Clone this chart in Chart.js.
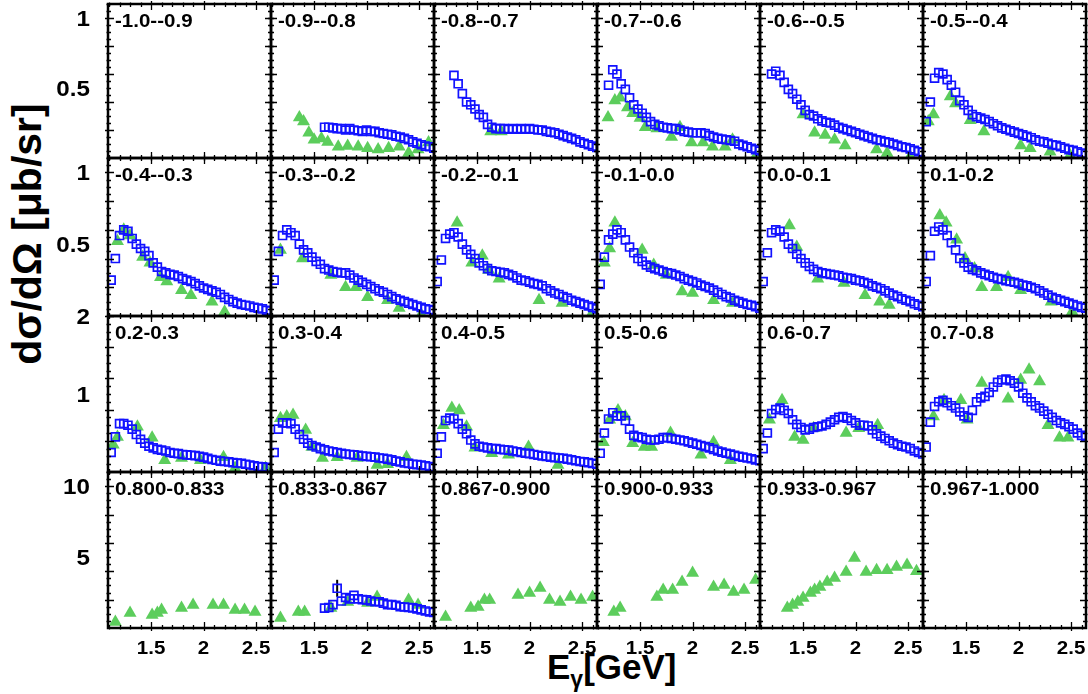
<!DOCTYPE html>
<html>
<head>
<meta charset="utf-8">
<script src="https://cdn.jsdelivr.net/npm/chart.js@4.4.1/dist/chart.umd.min.js"></script>
<style>
  html, body { margin: 0; padding: 0; background: #fff; }
  #wrap { position: relative; width: 1088px; height: 694px; overflow: hidden; background: #fff;
          font-family: "Liberation Sans", Arial, Helvetica, sans-serif; font-weight: bold; color: #000; }
  #wrap canvas { position: absolute; }
  #ytitle { position: absolute; left: -123px; top: 214px; width: 300px; height: 40px; line-height: 40px;
            font-size: 41px; text-align: center; white-space: nowrap; transform: rotate(-90deg); }
  #xtitle { position: absolute; left: 547px; top: 649px; font-size: 35px; line-height: 35px; white-space: nowrap; }
  #xtitle span { font-size: 23px; position: relative; top: 8px; }
</style>
</head>
<body>
<div id="wrap">
  <div id="ytitle">dσ/dΩ [μb/sr]</div>
  <div id="xtitle">E<span>γ</span>[GeV]</div>
</div>
<script>
// cos(theta) bins, one per panel, left to right, top to bottom
const binLabels = [
  '-1.0--0.9', '-0.9--0.8', '-0.8--0.7', '-0.7--0.6', '-0.6--0.5', '-0.5--0.4',
  '-0.4--0.3', '-0.3--0.2', '-0.2--0.1', '-0.1-0.0', '0.0-0.1', '0.1-0.2',
  '0.2-0.3', '0.3-0.4', '0.4-0.5', '0.5-0.6', '0.6-0.7', '0.7-0.8',
  '0.800-0.833', '0.833-0.867', '0.867-0.900', '0.900-0.933', '0.933-0.967', '0.967-1.000'
];

// photon energies of the blue (open square) data set
const eGrid = [1.12, 1.16, 1.20, 1.24, 1.28, 1.32, 1.36, 1.40, 1.44, 1.48, 1.52, 1.56, 1.60,
  1.64, 1.68, 1.72, 1.76, 1.80, 1.84, 1.88, 1.92, 1.96, 2.00, 2.04, 2.08, 2.12, 2.16,
  2.20, 2.24, 2.28, 2.32, 2.36, 2.40, 2.44, 2.48, 2.52, 2.56, 2.60, 2.64];

// first eGrid index that each panel's blue series uses
const blueFrom = [null, 12, 4, 2, 2, 0, 0, 0, 0, 0, 0, 0, 0, 0, 0, 0, 0, 0, null, 12, null, null, null, null];

const blueY = [
  null,
  [.22,.22,.215,.21,.21,.20,.21,.20,.195,.19,.20,.19,.19,.18,.175,.17,.165,.155,.15,.14,.13,.115,.105,.095,.085,.08,.07],
  [.59,.53,.46,.40,.38,.35,.31,.29,.24,.22,.21,.21,.21,.205,.21,.205,.21,.205,.21,.205,.20,.20,.19,.185,.18,.17,.16,.15,.14,.13,.115,.105,.095,.085,.075],
  [.52,.63,.60,.53,.49,.43,.38,.35,.32,.29,.26,.24,.23,.22,.215,.21,.21,.20,.19,.185,.18,.18,.18,.175,.16,.15,.14,.135,.13,.125,.12,.10,.09,.08,.07,.06,.05],
  [.60,.62,.59,.54,.49,.46,.42,.38,.34,.31,.30,.28,.265,.255,.25,.235,.22,.21,.20,.19,.18,.17,.16,.15,.14,.13,.125,.115,.11,.10,.09,.08,.075,.065,.055,.045,.04],
  [.26,.40,.57,.61,.60,.56,.52,.47,.41,.38,.34,.31,.295,.285,.275,.26,.245,.23,.215,.205,.195,.185,.175,.165,.155,.145,.13,.12,.115,.105,.095,.09,.08,.07,.06,.055,.045,.035,.03],
  [.25,.40,.56,.60,.59,.54,.50,.47,.45,.42,.37,.34,.31,.30,.29,.285,.275,.26,.25,.24,.225,.21,.195,.185,.175,.165,.15,.13,.115,.10,.09,.08,.075,.07,.06,.055,.05,.04,.035],
  [.25,.45,.56,.60,.58,.56,.50,.46,.44,.41,.38,.36,.33,.32,.31,.305,.30,.30,.285,.265,.25,.235,.22,.205,.19,.175,.165,.15,.135,.12,.11,.10,.09,.08,.07,.06,.05,.045,.04],
  [.24,.39,.54,.57,.58,.55,.50,.46,.43,.40,.37,.35,.33,.315,.31,.305,.30,.29,.28,.265,.25,.245,.235,.225,.22,.21,.19,.175,.16,.15,.135,.125,.11,.10,.09,.08,.07,.06,.05],
  [.22,.41,.53,.57,.60,.58,.53,.48,.44,.40,.38,.355,.34,.33,.32,.31,.30,.295,.285,.275,.26,.25,.24,.23,.215,.205,.195,.18,.165,.15,.135,.125,.11,.10,.09,.08,.075,.065,.055],
  [.24,.44,.58,.60,.59,.55,.50,.47,.43,.40,.37,.345,.325,.31,.30,.295,.29,.285,.28,.27,.265,.26,.25,.245,.235,.225,.21,.20,.19,.175,.16,.145,.135,.12,.11,.10,.085,.075,.065],
  [.24,.42,.59,.62,.60,.56,.51,.46,.40,.37,.34,.325,.315,.30,.29,.28,.27,.26,.255,.245,.24,.235,.225,.215,.21,.20,.19,.175,.16,.145,.13,.12,.11,.10,.09,.08,.07,.06,.055],
  [.25,.45,.62,.62,.60,.55,.48,.42,.37,.33,.31,.29,.28,.27,.25,.24,.235,.225,.22,.215,.21,.20,.19,.175,.16,.15,.14,.135,.13,.12,.115,.11,.10,.09,.08,.07,.065,.06,.05],
  [.25,.55,.63,.63,.62,.55,.48,.42,.37,.34,.32,.30,.285,.27,.26,.25,.24,.23,.225,.22,.215,.205,.20,.195,.19,.18,.175,.165,.155,.14,.13,.115,.11,.10,.095,.09,.08,.07,.065],
  [.24,.45,.66,.69,.68,.62,.55,.49,.41,.36,.33,.32,.31,.30,.30,.29,.285,.28,.27,.26,.25,.24,.235,.225,.215,.205,.20,.19,.185,.18,.175,.165,.155,.145,.135,.13,.12,.11,.10],
  [.24,.50,.68,.76,.72,.72,.66,.55,.47,.45,.44,.42,.41,.41,.42,.44,.44,.43,.42,.41,.40,.385,.37,.355,.34,.325,.31,.29,.27,.255,.24,.23,.215,.20,.19,.18,.17,.155,.145],
  [.30,.50,.75,.80,.82,.79,.75,.67,.61,.57,.54,.55,.57,.58,.59,.61,.64,.67,.70,.71,.69,.66,.63,.60,.60,.59,.54,.49,.46,.43,.40,.37,.35,.33,.32,.30,.27,.25,.23],
  [.32,.64,.84,.90,.92,.89,.85,.82,.77,.72,.70,.79,.90,.95,.97,1.02,1.09,1.15,1.18,1.19,1.17,1.14,1.09,1.01,.95,.90,.85,.82,.78,.74,.70,.66,.63,.61,.58,.55,.50,.47,.45],
  null,
  [1.40,1.45,1.65,2.80,1.90,2.15,2.05,2.30,2.05,2.00,1.98,1.90,1.85,1.85,1.75,1.65,1.65,1.60,1.50,1.48,1.45,1.42,1.35,1.28,1.20,1.13,1.10],
  null, null, null, null
];

// the one visible error bar (panel 0.833-0.867)
const errPanel = [19];
const errE = [1.72];
const errLo = [2.2];
const errHi = [3.4];

// green (filled triangle) data set: energies and values per panel
const greenE = [
  [],
  [1.36,1.40,1.45,1.50,1.57,1.63,1.73,1.82,1.92,2.01,2.11,2.21,2.31,2.40,2.49,2.59],
  [1.63,1.73],
  [1.195,1.26,1.31,1.38,1.43,1.50,1.55,1.66,1.80,1.88,1.99,2.10,2.19,2.31,2.38,2.60],
  [1.50,1.61,1.71,1.80,1.90,2.20,2.30,2.52],
  [1.14,1.19,1.35,1.40,1.54,1.67,2.02,2.11,2.30,2.49],
  [1.18,1.24,1.30,1.42,1.49,1.59,1.65,1.79,1.88,2.08,2.20],
  [1.18,1.39,1.66,1.80,1.90,2.01,2.20,2.31,2.52],
  [1.31,1.45,1.55,1.61,1.71,2.09,2.31,2.58],
  [1.16,1.21,1.26,1.52,1.63,1.75,1.90,2.00,2.20,2.38],
  [1.37,1.44,1.64,1.89,2.09,2.23,2.32],
  [1.25,1.31,1.41,1.49,1.58,1.65,1.79,1.90,2.02,2.31,2.51],
  [1.14,1.18,1.37,1.51,1.63,1.79,1.97,2.19,2.30,2.59],
  [1.18,1.24,1.30,1.42,1.48,1.58,1.72,1.91,2.10,2.20,2.38],
  [1.18,1.26,1.33,1.40,1.48,1.64,1.80,1.99,2.27],
  [1.15,1.21,1.29,1.36,1.43,1.54,1.61,1.79,2.08,2.20,2.36],
  [1.18,1.30,1.42,1.50,1.60,1.91,2.03,2.21],
  [1.19,1.29,1.45,1.51,1.65,1.90,2.02,2.10,2.20,2.28,2.39,2.47],
  [1.16,1.30,1.51,1.56,1.60,1.79,1.90,2.09,2.19,2.30,2.39,2.49],
  [1.18,1.35,1.41,1.66,1.82,2.01,2.10,2.40,2.49],
  [1.20,1.44,1.51,1.57,1.62,1.89,2.00,2.10,2.19,2.29,2.39,2.49,2.60],
  [1.25,1.31,1.66,1.72,1.81,1.90,2.00,2.20,2.30,2.39,2.49,2.60],
  [1.35,1.40,1.45,1.50,1.57,1.61,1.66,1.73,1.80,1.91,1.99,2.10,2.20,2.30,2.39,2.49,2.58],
  []
];
const greenY = [
  [],
  [.29,.26,.18,.13,.14,.115,.08,.085,.08,.07,.06,.07,.08,.035,.06,.11],
  [.19,.19],
  [.29,.41,.43,.36,.32,.285,.22,.21,.15,.22,.11,.11,.08,.08,.13,.01],
  [.31,.18,.165,.13,.09,.06,.035,.01],
  [.26,.31,.44,.39,.27,.19,.09,.07,.045,.02],
  [.52,.60,.56,.41,.37,.27,.24,.18,.145,.10,.03],
  [.46,.40,.285,.20,.20,.13,.11,.055,.01],
  [.65,.37,.42,.32,.26,.11,.09,.0],
  [.37,.47,.65,.46,.355,.285,.17,.16,.11,.09],
  [.63,.48,.26,.23,.145,.10,.077],
  [.70,.65,.53,.40,.33,.20,.20,.27,.18,.10,.03],
  [.35,.45,.58,.44,.15,.18,.15,.19,.05,.05],
  [.69,.71,.73,.54,.32,.18,.19,.18,.09,.10,.19],
  [.60,.82,.79,.58,.31,.24,.22,.32,.09],
  [.38,.67,.79,.71,.37,.32,.32,.50,.22,.38,.15],
  [.67,.92,.45,.41,.56,.50,.56,.60],
  [.71,.92,.92,.67,1.14,.94,1.18,1.31,1.16,.60,.44,.44],
  [.42,1.05,.92,1.05,1.27,1.41,1.62,1.62,1.62,1.27,1.27,1.13],
  [.70,1.13,1.13,1.41,1.83,1.76,2.18,1.97,1.62],
  [.77,1.41,1.48,1.97,1.97,2.32,2.46,2.82,1.97,1.83,2.18,1.97,2.18],
  [1.13,1.41,2.18,2.68,2.68,3.24,3.87,2.89,3.03,2.54,2.68,3.38],
  [1.41,1.62,1.83,2.11,2.46,2.68,2.89,3.24,3.52,3.94,4.93,3.94,4.08,4.08,4.30,4.44,4.01],
  []
];

// axes
const xRange = [1.09, 2.642];
const xTickLabels = [1.5, 2, 2.5];
const rowMax = [1.1, 1.1, 2, 11];
const rowTickLabels = [[0.5, 1], [0.5, 1], [1, 2], [5, 10]];
const rowMajor = [0.2, 0.2, 0.4, 2];
const rowMinor = [0.05, 0.05, 0.1, 0.5];

// page layout
const colLeft = 108, colW = 163;
const rowEdges = [4, 158, 316, 472, 628];

const BLUE = 'rgb(18,18,255)';
const GREEN = '#5ccd5c';
const FONT = '"Liberation Sans", Arial, Helvetica, sans-serif';

function stretchedText(ctx, text, x, y, align, size, sx) {
  ctx.save();
  ctx.translate(x, y);
  ctx.scale(sx, 1);
  ctx.font = 'bold ' + size + 'px ' + FONT;
  ctx.textAlign = align;
  ctx.textBaseline = 'alphabetic';
  ctx.fillText(text, 0, 0);
  ctx.restore();
}

// error bars, drawn under the markers
const errorBars = {
  id: 'errorBars',
  beforeDatasetsDraw(chart) {
    const idx = chart.options.plugins.panelFrame.index;
    const { ctx } = chart;
    ctx.save();
    ctx.strokeStyle = '#000';
    ctx.lineWidth = 2;
    errPanel.forEach((p, k) => {
      if (p !== idx) return;
      const px = chart.scales.x.getPixelForValue(errE[k]);
      ctx.beginPath();
      ctx.moveTo(px, chart.scales.y.getPixelForValue(errLo[k]));
      ctx.lineTo(px, chart.scales.y.getPixelForValue(errHi[k]));
      ctx.stroke();
    });
    ctx.restore();
  }
};

const panelFrame = {
  id: 'panelFrame',
  afterDraw(chart) {
    const o = chart.options.plugins.panelFrame;
    const { ctx, chartArea: a } = chart;
    const xs = chart.scales.x, ys = chart.scales.y;
    ctx.save();
    ctx.strokeStyle = '#000';
    ctx.fillStyle = '#000';
    ctx.lineWidth = 1.3;
    ctx.beginPath();
    for (let k = 11; k <= 26; k++) {
      const v = k / 10;
      const px = Math.round(xs.getPixelForValue(v)) + 0.5;
      const major = k % 5 === 0;
      const inL = major ? 6 : 3, outL = major ? 3 : 1.5;
      ctx.moveTo(px, a.bottom + outL); ctx.lineTo(px, a.bottom - inL);
      ctx.moveTo(px, a.top - outL); ctx.lineTo(px, a.top + inL);
    }
    const nMinor = Math.round(o.yMax / o.yMinor);
    const perMajor = Math.round(o.yMajor / o.yMinor);
    for (let k = 1; k <= nMinor; k++) {
      const v = k * o.yMinor;
      if (v > o.yMax) break;
      const py = Math.round(ys.getPixelForValue(v)) + 0.5;
      const major = k % perMajor === 0;
      const inL = major ? 6 : 3, outL = major ? 3 : 1.5;
      ctx.moveTo(a.left - outL, py); ctx.lineTo(a.left + inL, py);
      ctx.moveTo(a.right + outL, py); ctx.lineTo(a.right - inL, py);
    }
    ctx.stroke();

    ctx.lineWidth = 2.5;
    ctx.strokeRect(a.left, a.top, a.right - a.left, a.bottom - a.top);

    stretchedText(ctx, o.label, a.left + 7, a.top + 23, 'left', 19, 1.08);

    if (o.showY) {
      o.yLabels.forEach(v => {
        const py = ys.getPixelForValue(v);
        stretchedText(ctx, String(v), a.left - 18, py + 8, 'right', 22, 1.1);
      });
    }
    if (o.showX) {
      xTickLabels.forEach(v => {
        const px = xs.getPixelForValue(v);
        stretchedText(ctx, String(v), px, a.bottom + 26, 'center', 19, 1.08);
      });
    }
    ctx.restore();
  }
};

const wrap = document.getElementById('wrap');

for (let i = 0; i < 24; i++) {
  const r = Math.floor(i / 6), c = i % 6;
  const L = colLeft + c * colW, T = rowEdges[r];
  const W = colW, H = rowEdges[r + 1] - rowEdges[r];
  const padL = c === 0 ? 100 : 14, padR = 14, padT = 14, padB = r === 3 ? 44 : 14;

  const cv = document.createElement('canvas');
  cv.width = W + padL + padR;
  cv.height = H + padT + padB;
  cv.style.left = (L - padL) + 'px';
  cv.style.top = (T - padT) + 'px';
  wrap.appendChild(cv);

  const blue = blueY[i] ? blueY[i].map((y, j) => ({ x: eGrid[blueFrom[i] + j], y })) : [];
  const green = greenE[i].map((x, j) => ({ x, y: greenY[i][j] }));

  new Chart(cv, {
    type: 'scatter',
    data: {
      datasets: [
        { data: blue, pointStyle: 'rect', pointRadius: 5.6, borderWidth: 1.7,
          borderColor: BLUE, backgroundColor: 'rgba(0,0,0,0)', order: 0 },
        { data: green, pointStyle: 'triangle', pointRadius: 7.5, borderWidth: 0,
          borderColor: GREEN, backgroundColor: GREEN, order: 1 }
      ]
    },
    options: {
      responsive: false,
      animation: false,
      devicePixelRatio: 1,
      events: [],
      layout: { padding: { left: padL, right: padR, top: padT, bottom: padB } },
      scales: {
        x: { type: 'linear', min: xRange[0], max: xRange[1], display: false },
        y: { type: 'linear', min: 0, max: rowMax[r], display: false }
      },
      plugins: {
        legend: { display: false },
        tooltip: { enabled: false },
        panelFrame: {
          index: i,
          label: binLabels[i],
          yMax: rowMax[r], yMajor: rowMajor[r], yMinor: rowMinor[r],
          yLabels: rowTickLabels[r],
          showY: c === 0, showX: r === 3
        }
      }
    },
    plugins: [errorBars, panelFrame]
  });
}
</script>
</body>
</html>
